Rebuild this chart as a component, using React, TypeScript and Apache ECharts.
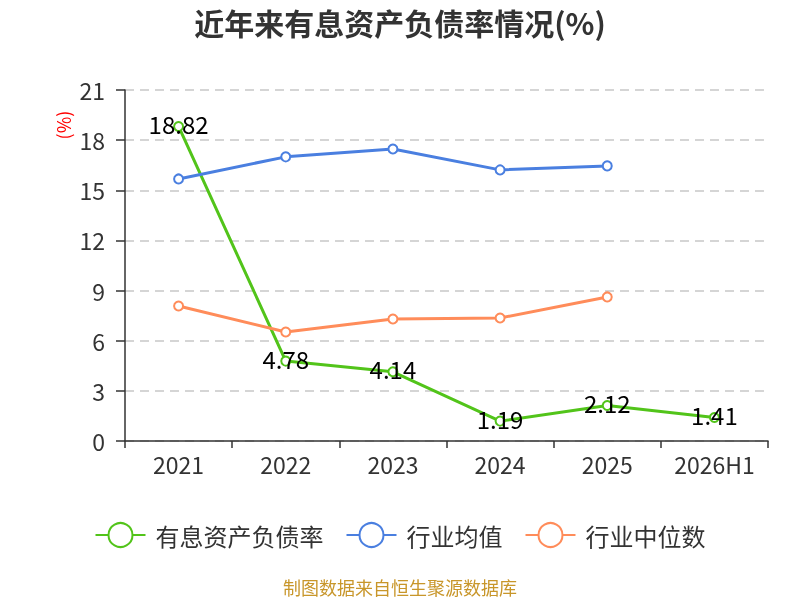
import React, { useEffect, useRef } from "react";
import * as echarts from "echarts";

const categories = ["2021", "2022", "2023", "2024", "2025", "2026H1"];
const debtRatio = [18.82, 4.78, 4.14, 1.19, 2.12, 1.41];
const industryAvg = [15.68, 17.0, 17.47, 16.22, 16.46, null];
const industryMedian = [8.08, 6.52, 7.3, 7.36, 8.62, null];

export default function App() {
  const ref = useRef<HTMLDivElement>(null);
  useEffect(() => {
    const chart = echarts.init(ref.current!, null, { renderer: "svg" });
    const font = "'Noto Sans CJK SC', 'Noto Sans', sans-serif";
    chart.setOption({
      animation: false,
      textStyle: { fontFamily: font },
      title: {
        text: "近年来有息资产负债率情况(%)",
        left: "center",
        top: 2,
        textStyle: { fontSize: 30, fontWeight: "bold", color: "#333", fontFamily: font },
      },
      grid: { left: 125, right: 32, top: 90, bottom: 159 },
      legend: {
        top: 517,
        left: "center",
        itemWidth: 50,
        itemHeight: 30,
        itemGap: 22,
        textStyle: { fontSize: 24, color: "#333", fontFamily: font, padding: [0, 0, 0, 5] },
        data: ["有息资产负债率", "行业均值", "行业中位数"],
      },
      graphic: [
        {
          type: "text",
          left: "center",
          top: 578,
          style: { text: "制图数据来自恒生聚源数据库", fill: "#c8962a", fontSize: 18, fontFamily: font },
        },
        {
          type: "text",
          x: 63,
          y: 125,
          rotation: Math.PI / 2,
          style: {
            text: "(%)",
            fill: "#f00",
            fontSize: 18,
            fontFamily: font,
            align: "center",
            verticalAlign: "middle",
          },
        },
      ],
      xAxis: {
        type: "category",
        data: categories,
        boundaryGap: true,
        axisLine: { lineStyle: { color: "#333", width: 1.5 } },
        axisTick: { show: true, length: 7, lineStyle: { color: "#333", width: 1.5 } },
        axisLabel: { fontSize: 23, color: "#333", margin: 11 },
      },
      yAxis: {
        type: "value",
        min: 0,
        max: 21,
        interval: 3,
        axisLine: { show: true, lineStyle: { color: "#333", width: 1.5 } },
        axisTick: { show: true, length: 9, lineStyle: { color: "#333", width: 1.5 } },
        axisLabel: { fontSize: 23, color: "#333", margin: 20 },
        splitLine: { lineStyle: { type: [9, 6], color: "#c8c8c8", width: 1.5 } },
      },
      series: [
        {
          name: "有息资产负债率",
          type: "line",
          data: debtRatio,
          symbol: "emptyCircle",
          symbolSize: 9,
          itemStyle: { color: "#52c41a", borderWidth: 2 },
          lineStyle: { width: 3, color: "#52c41a" },
          label: { show: true, position: "inside", offset: [0, -3], fontSize: 24, color: "#000" },
          z: 3,
        },
        {
          name: "行业均值",
          type: "line",
          data: industryAvg,
          symbol: "emptyCircle",
          symbolSize: 9,
          itemStyle: { color: "#4a7fe0", borderWidth: 2 },
          lineStyle: { width: 3, color: "#4a7fe0" },
        },
        {
          name: "行业中位数",
          type: "line",
          data: industryMedian,
          symbol: "emptyCircle",
          symbolSize: 9,
          itemStyle: { color: "#ff8c5a", borderWidth: 2 },
          lineStyle: { width: 3, color: "#ff8c5a" },
        },
      ],
    });
    return () => chart.dispose();
  }, []);
  return <div ref={ref} style={{ position: "fixed", left: 0, top: 0, width: 800, height: 600 }} />;
}
